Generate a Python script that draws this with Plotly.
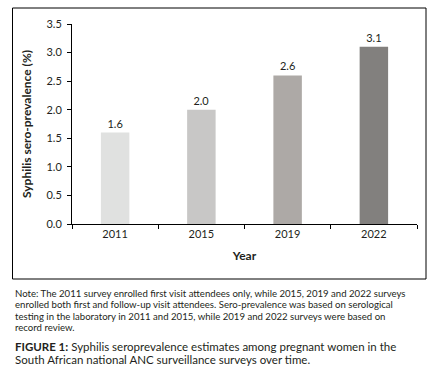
import plotly.graph_objects as go

years = ["2011", "2015", "2019", "2022"]
prevalence = [1.6, 2.0, 2.6, 3.1]
bar_colors = ["#e0e1e0", "#c8c7c6", "#ada9a6", "#82807e"]
y_ticks = [0.0, 0.5, 1.0, 1.5, 2.0, 2.5, 3.0, 3.5]

note_lines = [
    "Note: The 2011 survey enrolled first visit attendees only, while 2015, 2019 and 2022 surveys",
    "enrolled both first and follow-up visit attendees. Sero-prevalence was based on serological",
    "testing in the laboratory in 2011 and 2015, while 2019 and 2022 surveys were based on",
    "record review.",
]
caption_lines = [
    "<b>FIGURE 1:</b> Syphilis seroprevalence estimates among pregnant women in the",
    "South African national ANC surveillance surveys over time.",
]

FONT = "Lato"
TXT = "#231f20"

fig = go.Figure(
    go.Bar(
        x=years,
        y=prevalence,
        marker=dict(color=bar_colors, line=dict(width=0)),
        width=0.33,
        text=[f"{v:.1f}" for v in prevalence],
        textposition="outside",
        textfont=dict(family=FONT, size=11, color=TXT),
        cliponaxis=False,
    )
)

W, H = 439, 376
L, R, T, B = 72, 22, 24, 152
pw, ph = W - L - R, H - T - B


def px_x(x):
    return (x - L) / pw


def px_y(y):
    return 1 - (y - T) / ph


fig.update_layout(
    width=W,
    height=H,
    margin=dict(l=L, r=R, t=T, b=B, autoexpand=False),
    paper_bgcolor="white",
    plot_bgcolor="white",
    font=dict(family=FONT, color=TXT, size=11),
    showlegend=False,
)

fig.update_xaxes(
    type="category",
    showline=True,
    linecolor="black",
    linewidth=1,
    ticks="outside",
    tickson="boundaries",
    ticklen=4,
    tickcolor="black",
    tickfont=dict(size=11, family=FONT, color=TXT),
    title=dict(text="<b>Year</b>", font=dict(size=12, family=FONT, color=TXT), standoff=12),
    showgrid=False,
    automargin=False,
)
fig.update_yaxes(
    range=[0, 3.5],
    tickvals=y_ticks,
    tickformat=".1f",
    showline=True,
    linecolor="black",
    linewidth=1,
    ticks="outside",
    ticklen=4,
    tickcolor="black",
    ticklabelstandoff=3,
    tickfont=dict(size=11, family=FONT, color=TXT),
    title=dict(text="<b>Syphilis sero-prevalence (%)</b>", font=dict(size=12, family=FONT, color=TXT), standoff=12),
    showgrid=False,
    zeroline=False,
    automargin=False,
)

# outer box
fig.add_shape(
    type="rect",
    xref="paper",
    yref="paper",
    x0=px_x(12.5),
    x1=px_x(426),
    y0=px_y(279),
    y1=px_y(8),
    line=dict(color="black", width=1),
    fillcolor="rgba(0,0,0,0)",
)

note_y = [293, 304.5, 316, 327.5]
for line, y in zip(note_lines, note_y):
    fig.add_annotation(
        text=line,
        xref="paper",
        yref="paper",
        x=px_x(13),
        y=px_y(y),
        xanchor="left",
        yanchor="middle",
        showarrow=False,
        font=dict(size=9.6, family=FONT, color=TXT),
    )

cap_y = [346, 359]
for line, y in zip(caption_lines, cap_y):
    fig.add_annotation(
        text=line,
        xref="paper",
        yref="paper",
        x=px_x(13),
        y=px_y(y),
        xanchor="left",
        yanchor="middle",
        showarrow=False,
        font=dict(size=11.5, family=FONT, color=TXT),
    )

fig.write_html(
    "out.html",
    config={"displayModeBar": False},
    post_script="document.body.style.margin='0';",
)
